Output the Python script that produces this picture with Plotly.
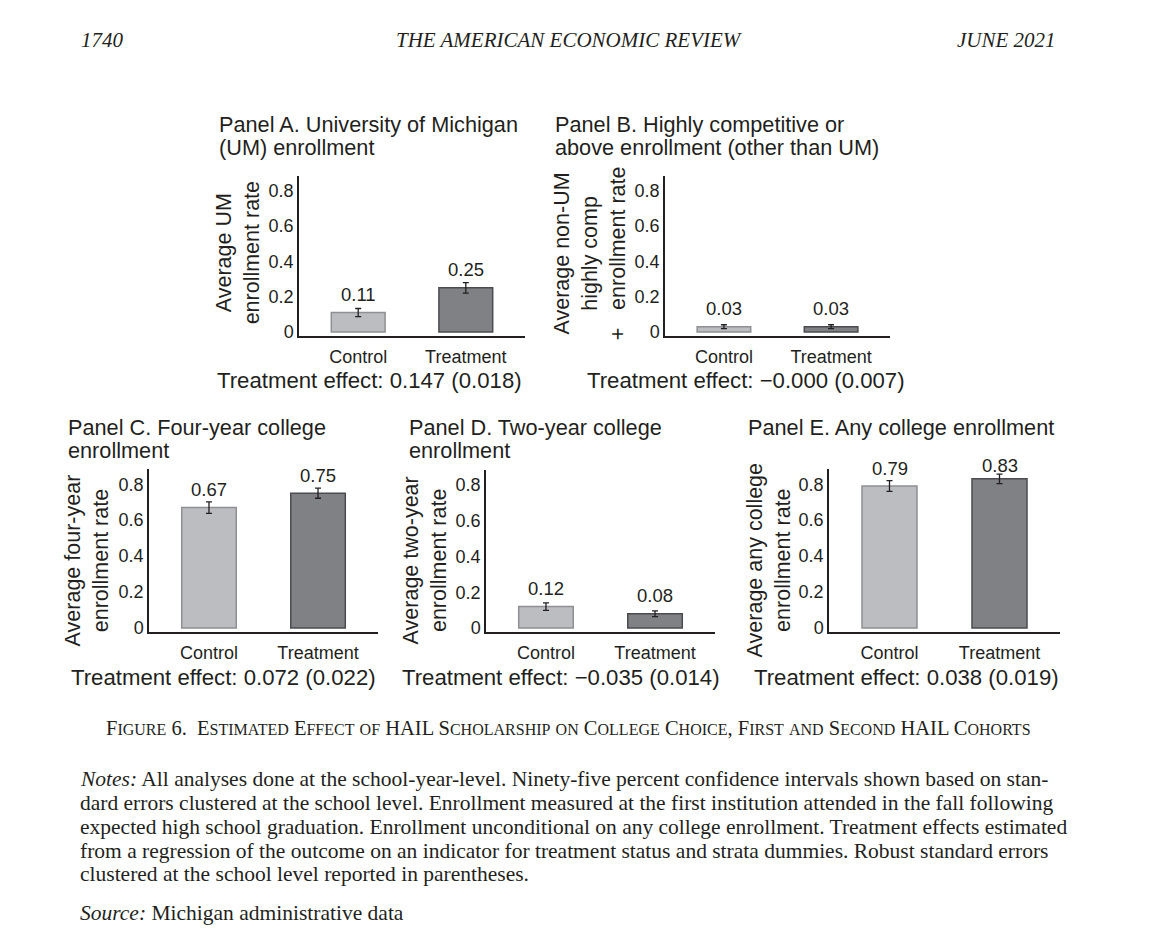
import plotly.graph_objects as go

W, H = 1150, 940

categories = ["Control", "Treatment"]

panel_titles = [
    ["Panel A. University of Michigan", "(UM) enrollment"],
    ["Panel B. Highly competitive or", "above enrollment (other than UM)"],
    ["Panel C. Four-year college", "enrollment"],
    ["Panel D. Two-year college", "enrollment"],
    ["Panel E. Any college enrollment"],
]
y_titles = [
    "Average UM<br>enrollment rate",
    "Average non-UM<br>highly comp<br>+\u00a0\u00a0\u00a0enrollment rate",
    "Average four-year<br>enrollment rate",
    "Average two-year<br>enrollment rate",
    "Average any college<br>enrollment rate",
]

# bar heights (= printed labels) and half widths of the 95% CIs
um_mean = [0.11, 0.25]
um_ci = [0.023, 0.030]
comp_mean = [0.03, 0.03]
comp_ci = [0.011, 0.011]
four_mean = [0.67, 0.75]
four_ci = [0.032, 0.028]
two_mean = [0.12, 0.08]
two_ci = [0.021, 0.016]
any_mean = [0.79, 0.83]
any_ci = [0.030, 0.026]

effects = [
    "Treatment effect: 0.147 (0.018)",
    "Treatment effect: \u22120.000 (0.007)",
    "Treatment effect: 0.072 (0.022)",
    "Treatment effect: \u22120.035 (0.014)",
    "Treatment effect: 0.038 (0.019)",
]

y_ticks = [0, 0.2, 0.4, 0.6, 0.8]
y_ticktext = ["0", "0.2", "0.4", "0.6", "0.8"]

means = [um_mean, comp_mean, four_mean, two_mean, any_mean]
cis = [um_ci, comp_ci, four_ci, two_ci, any_ci]

# layout of each panel in pixels: plot box (x0, x1, top, bottom),
# title left / first line y, y-title centre, effect-line centre
boxes = [
    (299, 525, 177, 338),
    (665, 890, 177, 338),
    (149, 378, 472, 636),
    (486, 715, 473, 636),
    (829, 1060, 472, 636),
]
title_pos = [(217, 125), (553, 125), (66, 430), (407, 430), (746, 430)]
ytitle_pos = [(238, 255), (590, 255), (87, 564), (425, 564), (769, 564)]
effect_pos = [(370, 383), (746, 383), (223, 682), (561, 682), (906, 682)]

INK = "#231f20"
SANS = "Liberation Sans, Arial, sans-serif"
SERIF = "Liberation Serif, Times New Roman, serif"
fill_cols = ["#bcbdc0", "#808185"]
line_cols = ["#8f9093", "#4b4c50"]


def px(x):
    return x / W


def py(y):
    return 1 - y / H


def small_caps(s, big=20.5, small=16):
    out = []
    for ch in s:
        if ch.islower():
            out.append(f"<span style='font-size:{small}px'>{ch.upper()}</span>")
        else:
            out.append(f"<span style='font-size:{big}px'>{ch}</span>")
    return "".join(out)


fig = go.Figure()
annotations = []

for i in range(5):
    n = "" if i == 0 else str(i + 1)
    x0, x1, top, bottom = boxes[i]
    fig.add_trace(
        go.Bar(
            x=categories,
            y=means[i],
            width=0.5,
            marker=dict(color=fill_cols, line=dict(color=line_cols, width=1.5)),
            error_y=dict(type="data", array=cis[i], color=INK, thickness=1.3, width=3),
            xaxis="x" + n,
            yaxis="y" + n,
            showlegend=False,
            hoverinfo="skip",
        )
    )
    fig.layout["xaxis" + n] = dict(
        domain=[px(x0), px(x1)],
        anchor="y" + n,
        range=[-0.55, 1.55],
        showline=True,
        linecolor=INK,
        linewidth=1.5,
        showgrid=False,
        ticks="",
        ticklabelstandoff=4,
        tickfont=dict(family=SANS, size=18, color=INK),
        fixedrange=True,
    )
    fig.layout["yaxis" + n] = dict(
        domain=[py(bottom), py(top)],
        anchor="x" + n,
        range=[-0.022, 0.885],
        showline=True,
        linecolor=INK,
        linewidth=1.5,
        showgrid=False,
        zeroline=False,
        ticks="",
        tickvals=y_ticks,
        ticktext=y_ticktext,
        ticklabelstandoff=0,
        tickfont=dict(family=SANS, size=18, color=INK),
        fixedrange=True,
    )
    # value labels above the bars (kept below the top of the box)
    for cat, v in zip(categories, means[i]):
        annotations.append(dict(
            x=cat, y=min(v, 0.805), xref="x" + n, yref="y" + n, yshift=18,
            text=f"{v:.2f}", showarrow=False, xanchor="center", yanchor="middle",
            font=dict(family=SANS, size=18.5, color=INK),
        ))
    tx, ty = title_pos[i]
    for k, line in enumerate(panel_titles[i]):
        annotations.append(dict(
            x=px(tx), y=py(ty + 23 * k), xref="paper", yref="paper", text=line,
            showarrow=False, xanchor="left", yanchor="middle", align="left",
            font=dict(family=SANS, size=21.7, color=INK),
        ))
    yx, yy = ytitle_pos[i]
    annotations.append(dict(
        x=px(yx), y=py(yy), xref="paper", yref="paper", text=y_titles[i],
        showarrow=False, xanchor="center", yanchor="middle", textangle=-90,
        font=dict(family=SANS, size=21.5, color=INK),
    ))
    ex, ey = effect_pos[i]
    annotations.append(dict(
        x=px(ex), y=py(ey), xref="paper", yref="paper", text=effects[i],
        showarrow=False, xanchor="center", yanchor="middle",
        font=dict(family=SANS, size=22.2, color=INK),
    ))

# running head
head_font = dict(family=SERIF, size=21, color=INK)
annotations += [
    dict(x=px(79), y=py(40), text="<i>1740</i>", xanchor="left"),
    dict(x=px(569), y=py(40), text="<i>THE AMERICAN ECONOMIC REVIEW</i>", xanchor="center"),
    dict(x=px(1058), y=py(40), text="<i>JUNE 2021</i>", xanchor="right"),
]
for a in annotations[-3:]:
    a.update(xref="paper", yref="paper", yanchor="middle", showarrow=False, font=head_font)

caption = small_caps("Figure 6.  Estimated Effect of HAIL Scholarship on College Choice, "
                     "First and Second HAIL Cohorts")
annotations.append(dict(
    x=px(568), y=py(733), xref="paper", yref="paper", text=caption, showarrow=False,
    xanchor="center", yanchor="middle", font=dict(family=SERIF, size=20.5, color=INK),
))

notes_lines = [
    "<i>Notes:</i> All analyses done at the school-year-level. Ninety-five percent confidence intervals shown based on stan-",
    "dard errors clustered at the school level. Enrollment measured at the first institution attended in the fall following",
    "expected high school graduation. Enrollment unconditional on any college enrollment. Treatment effects estimated",
    "from a regression of the outcome on an indicator for treatment status and strata dummies. Robust standard errors",
    "clustered at the school level reported in parentheses.",
]
for k, line in enumerate(notes_lines):
    annotations.append(dict(
        x=px(78), y=py(784 + 24 * k), xref="paper", yref="paper", text=line,
        showarrow=False, xanchor="left", yanchor="middle",
        font=dict(family=SERIF, size=21.5, color=INK),
    ))
annotations.append(dict(
    x=px(78), y=py(919), xref="paper", yref="paper",
    text="<i>Source:</i> Michigan administrative data", showarrow=False,
    xanchor="left", yanchor="middle", font=dict(family=SERIF, size=21.5, color=INK),
))

fig.update_layout(
    width=W,
    height=H,
    margin=dict(l=0, r=0, t=0, b=0),
    paper_bgcolor="white",
    plot_bgcolor="white",
    annotations=annotations,
)

fig.write_html(
    "out.html",
    config={"displayModeBar": False},
    post_script="document.body.style.margin='0';",
)
